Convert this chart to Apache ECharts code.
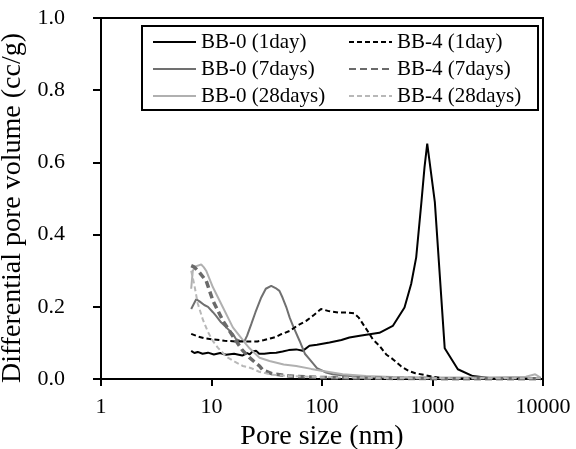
<!DOCTYPE html>
<html><head><meta charset="utf-8">
<script src="https://cdn.jsdelivr.net/npm/echarts@6/dist/echarts.min.js"></script>
<style>html,body{margin:0;padding:0;background:#fff}#c{width:576px;height:449px}</style>
</head><body><div id="c"></div>
<script>
var seriesNames = ['BB-0 (1day)', 'BB-0 (7days)', 'BB-0 (28days)', 'BB-4 (1day)', 'BB-4 (7days)', 'BB-4 (28days)'];
var xTicks = [1, 10, 100, 1000, 10000];
var yTicks = [0, 0.2, 0.4, 0.6, 0.8, 1.0];

var bb0_1day = [[6.55,0.078],[7.0,0.072],[7.5,0.075],[8.3,0.07],[9.3,0.073],[10.5,0.068],[12,0.072],[13.5,0.067],[16,0.070],[19,0.065],[21,0.072],[22.1,0.068],[23.5,0.076],[25.4,0.078],[27,0.07],[30,0.07],[34,0.072],[38.5,0.073],[44,0.076],[50,0.08],[58.4,0.082],[67,0.078],[77,0.092],[90,0.095],[117,0.101],[150,0.108],[177,0.115],[220,0.12],[269,0.124],[331,0.128],[437,0.147],[558,0.198],[641,0.263],[712,0.337],[791,0.485],[847,0.587],[896,0.652],[1050,0.49],[1290,0.085],[1695,0.027],[2315,0.008],[3280,0.003],[6000,0.001],[9500,0.001]];
var bb0_7days = [[6.55,0.194],[7.27,0.221],[7.79,0.215],[8.6,0.205],[9.3,0.2],[10.3,0.185],[11,0.175],[12.2,0.157],[13.6,0.143],[15.6,0.125],[16.7,0.11],[18,0.106],[19.9,0.105],[21,0.12],[22.9,0.152],[25,0.185],[28.2,0.226],[31,0.25],[34.7,0.258],[38,0.252],[41.2,0.244],[44,0.225],[47.4,0.2],[51,0.17],[55,0.145],[62.6,0.106],[70,0.07],[77,0.055],[90,0.03],[109,0.018],[125,0.013],[177,0.008],[300,0.005],[1000,0.003],[3000,0.002],[9500,0.002]];
var bb0_28days = [[6.55,0.25],[6.77,0.3],[7.2,0.312],[8.07,0.317],[8.5,0.31],[8.95,0.3],[10.3,0.254],[12.7,0.198],[15.6,0.143],[19,0.11],[20.6,0.096],[22.1,0.085],[24,0.075],[27.2,0.059],[33.5,0.05],[45,0.04],[58.4,0.036],[80,0.028],[102,0.022],[154,0.013],[250,0.008],[500,0.005],[1000,0.004],[3000,0.004],[7000,0.006],[8500,0.013],[9500,0.004]];
var bb4_1day = [[6.55,0.125],[7.5,0.118],[8.6,0.113],[10,0.11],[11.8,0.108],[13.1,0.106],[16.7,0.104],[20,0.104],[26,0.104],[30,0.108],[34.7,0.113],[38,0.116],[42.7,0.124],[50.8,0.133],[60,0.148],[71.9,0.161],[85,0.178],[98,0.194],[115,0.188],[140,0.184],[170,0.184],[195,0.182],[215,0.17],[240,0.148],[265,0.128],[288,0.11],[331,0.092],[381,0.068],[437,0.055],[520,0.035],[610,0.022],[700,0.016],[850,0.011],[1000,0.006],[1300,0.002],[2000,0.001],[9500,0.001]];
var bb4_7days = [[6.55,0.314],[7.0,0.31],[7.79,0.295],[8.95,0.272],[10.3,0.217],[12.7,0.161],[16.7,0.105],[19,0.08],[22.1,0.059],[25,0.045],[27.2,0.036],[29.1,0.025],[35,0.015],[50.8,0.008],[102,0.004],[300,0.002],[1000,0.001],[9500,0.001]];
var bb4_28days = [[6.55,0.3],[7.0,0.26],[7.5,0.21],[8.34,0.165],[9.3,0.13],[10.3,0.105],[11.4,0.087],[13.6,0.062],[16.2,0.048],[19.2,0.036],[22.9,0.03],[27,0.02],[35,0.012],[50,0.008],[100,0.005],[300,0.003],[1000,0.002],[9500,0.002]];

var FONT = "'Liberation Serif', 'Times New Roman', serif";
var chart = echarts.init(document.getElementById('c'), null, {renderer: 'canvas'});

function mk(name, data, color, width, type) {
  return {
    name: name, type: 'line', data: data, showSymbol: false, symbol: 'none',
    smooth: false, z: 3,
    lineStyle: {color: color, width: width, type: type},
    itemStyle: {color: color}
  };
}

var legendText = {fontFamily: FONT, fontSize: 21, color: '#000', lineHeight: 22};
var legendItem = {opacity: 0, color: 'transparent', borderWidth: 0};
chart.setOption({
  animation: false,
  backgroundColor: '#fff',
  grid: {left: 101, top: 18, right: 33, bottom: 70, show: true, borderColor: '#000', borderWidth: 2,
    containLabel: false, outerBoundsMode: 'none'},
  graphic: [{type: 'rect', shape: {x: 142, y: 26, width: 396, height: 84}, style: {fill: 'none', stroke: '#000', lineWidth: 2}, z: 10}],
  legend: [
    {data: seriesNames.slice(0, 3), orient: 'vertical', left: 152, top: 31, itemWidth: 43, itemHeight: 10, itemGap: 5, textStyle: legendText, itemStyle: legendItem, padding: 0},
    {data: seriesNames.slice(3, 6), orient: 'vertical', left: 348, top: 31, itemWidth: 43, itemHeight: 10, itemGap: 5, textStyle: legendText, itemStyle: legendItem, padding: 0}
  ],
  xAxis: {
    type: 'log', logBase: 10, min: xTicks[0], max: xTicks[xTicks.length - 1],
    name: 'Pore size (nm)', nameLocation: 'middle', nameGap: 44,
    nameTextStyle: {fontFamily: FONT, fontSize: 28, color: '#000'},
    axisLine: {lineStyle: {color: '#000', width: 2}},
    axisTick: {show: true, inside: false, length: 7, lineStyle: {color: '#000', width: 2}},
    minorTick: {show: false},
    splitLine: {show: false},
    axisLabel: {fontFamily: FONT, fontSize: 22, color: '#000', margin: 17,
      formatter: function (v) { return String(Math.round(v)); }}
  },
  yAxis: {
    type: 'value', min: yTicks[0], max: yTicks[yTicks.length - 1], interval: 0.2,
    name: 'Differential pore volume (cc/g)', nameLocation: 'middle', nameGap: 60, nameRotate: 90,
    nameTextStyle: {fontFamily: FONT, fontSize: 28, color: '#000', padding: [0, 19, 0, 0]},
    axisLine: {show: true, lineStyle: {color: '#000', width: 2}},
    axisTick: {show: true, inside: false, length: 8, lineStyle: {color: '#000', width: 2}},
    splitLine: {show: false},
    axisLabel: {fontFamily: FONT, fontSize: 22, color: '#000', margin: 36,
      formatter: function (v) { return v.toFixed(1); }}
  },
  series: [
    mk(seriesNames[0], bb0_1day, '#000000', 2, 'solid'),
    mk(seriesNames[1], bb0_7days, '#707070', 2, 'solid'),
    mk(seriesNames[2], bb0_28days, '#b0b0b0', 2, 'solid'),
    mk(seriesNames[3], bb4_1day, '#000000', 2, [5, 3]),
    mk(seriesNames[4], bb4_7days, '#6a6a6a', 3.5, [7, 4]),
    mk(seriesNames[5], bb4_28days, '#b8b8b8', 2, [5, 3])
  ]
});
</script>
</body></html>
